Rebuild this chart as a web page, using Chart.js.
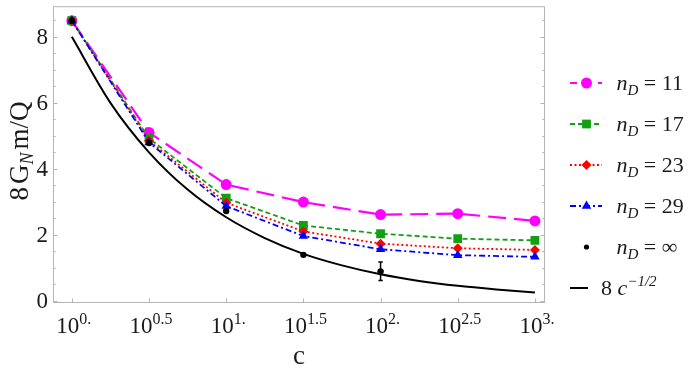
<!DOCTYPE html>
<html>
<head>
<meta charset="utf-8">
<script src="https://cdn.jsdelivr.net/npm/chart.js@4.4.1/dist/chart.umd.min.js"></script>
<style>
  body { margin: 0; background: #fff; }
  #wrap { width: 697px; height: 377px; }
</style>
</head>
<body>
<div id="wrap"><canvas id="chart" width="697" height="377"></canvas></div>
<script>
// c values (log axis) and 8 G_N m/Q
const cValues = [1, 3.162, 10, 31.62, 100, 316.2, 1000];
const nD11 = [8.49, 5.10, 3.52, 2.99, 2.61, 2.64, 2.42];
const nD17 = [8.49, 4.92, 3.11, 2.28, 2.03, 1.88, 1.83];
const nD23 = [8.49, 4.85, 2.97, 2.10, 1.73, 1.59, 1.54];
const nD29 = [8.49, 4.80, 2.87, 1.96, 1.56, 1.38, 1.33];

// n_D = infinity points, with error bar on the last one
const cInf = [1, 3.162, 10, 31.62, 100];
const nDInf = [8.49, 4.78, 2.72, 1.39, 0.89];
const nDInfErr = [0, 0, 0, 0, 0.28];

// 8 c^(-1/2) curve, read every quarter decade
const cCurve = [1, 1.778, 3.162, 5.623, 10, 17.78, 31.62, 56.23, 100, 177.8, 316.2, 562.3, 1000];
const curveVals = [8.0, 6.0, 4.5, 3.37, 2.53, 1.9, 1.42, 1.07, 0.8, 0.6, 0.45, 0.34, 0.25];

// ticks
const xTickVals = [1, 3.162, 10, 31.62, 100, 316.2, 1000];
const xTickExp = ['0.', '0.5', '1.', '1.5', '2.', '2.5', '3.'];
const yTickVals = [0, 2, 4, 6, 8];

const SERIF = '"Liberation Serif", "DejaVu Serif", serif';
const FRAME = '#b4b4b4';

const pts = (xs, ys) => ys.map((v, i) => ({ x: xs[i], y: v }));

const series = [
  { key: '11', data: nD11, color: '#ff00ff', dash: [18, 8], width: 2.2, shape: 'circle', r: 5.5 },
  { key: '17', data: nD17, color: '#12a012', dash: [5, 3], width: 1.8, shape: 'rect', r: 6.2 },
  { key: '23', data: nD23, color: '#ff0000', dash: [2, 2.5], width: 1.8, shape: 'rectRot', r: 5 },
  { key: '29', data: nD29, color: '#0000ff', dash: [6, 3, 2, 3], width: 1.8, shape: 'triangle', r: 5.5 }
];

const datasets = [
  {
    label: 'inf', data: pts(cInf, nDInf), showLine: false,
    pointRadius: 3.2, pointBackgroundColor: '#000', pointBorderWidth: 0, order: 0
  },
  ...series.map((s, i) => ({
    label: s.key, data: pts(cValues, s.data), showLine: true,
    borderColor: s.color, borderWidth: s.width, borderDash: s.dash,
    pointStyle: s.shape, pointRadius: s.r, pointBackgroundColor: s.color,
    pointBorderColor: s.color, pointBorderWidth: 0, order: 4 - i
  })),
  {
    label: 'curve', data: pts(cCurve, curveVals), showLine: true,
    borderColor: '#000', borderWidth: 2, pointRadius: 0,
    cubicInterpolationMode: 'monotone', order: 6
  }
];

function marker(ctx, shape, x, y, r, color) {
  ctx.save();
  ctx.fillStyle = color;
  ctx.setLineDash([]);
  ctx.beginPath();
  if (shape === 'circle') {
    ctx.arc(x, y, r, 0, Math.PI * 2);
  } else if (shape === 'rect') {
    const s = r * Math.SQRT1_2;
    ctx.rect(x - s, y - s, 2 * s, 2 * s);
  } else if (shape === 'rectRot') {
    ctx.moveTo(x - r, y); ctx.lineTo(x, y - r); ctx.lineTo(x + r, y); ctx.lineTo(x, y + r);
  } else if (shape === 'triangle') {
    for (let k = 0; k < 3; k++) {
      const a = k * 2 * Math.PI / 3;
      ctx.lineTo(x + Math.sin(a) * r, y - Math.cos(a) * r);
    }
  }
  ctx.closePath();
  ctx.fill();
  ctx.restore();
}

// draw pieces of text with font changes; returns end x
function runs(ctx, parts, x, y) {
  for (const p of parts) {
    ctx.font = p.font;
    ctx.fillText(p.t, x, y + (p.dy || 0));
    x += ctx.measureText(p.t).width + (p.gap || 0);
  }
  return x;
}
function runsWidth(ctx, parts) {
  let w = 0;
  for (const p of parts) { ctx.font = p.font; w += ctx.measureText(p.t).width + (p.gap || 0); }
  return w;
}

const framePlugin = {
  id: 'frame',
  beforeDatasetsDraw(chart) {
    const { ctx, chartArea: a, scales: { x, y } } = chart;
    ctx.save();
    ctx.strokeStyle = FRAME;
    ctx.lineWidth = 1;
    ctx.strokeRect(a.left + 0.5, a.top + 0.5, a.right - a.left - 1, a.bottom - a.top - 1);
    // y ticks: major on even values, minor every 0.5
    ctx.beginPath();
    for (let v = 0; v <= 8.5; v += 0.5) {
      const py = Math.round(y.getPixelForValue(v)) + 0.5;
      const len = yTickVals.includes(v) ? 4.5 : 2.6;
      ctx.moveTo(a.left, py); ctx.lineTo(a.left + len, py);
      ctx.moveTo(a.right, py); ctx.lineTo(a.right - len, py);
    }
    for (const v of xTickVals) {
      const px = Math.round(x.getPixelForValue(v)) + 0.5;
      ctx.moveTo(px, a.bottom); ctx.lineTo(px, a.bottom - 4.5);
    }
    ctx.stroke();
    ctx.restore();
  },
  afterDatasetsDraw(chart) {
    const { ctx, scales: { x, y } } = chart;
    ctx.save();
    ctx.strokeStyle = '#000';
    ctx.lineWidth = 1.5;
    ctx.beginPath();
    nDInfErr.forEach((e, i) => {
      if (!e) return;
      const px = x.getPixelForValue(cInf[i]);
      const y1 = y.getPixelForValue(nDInf[i] + e);
      const y2 = y.getPixelForValue(nDInf[i] - e);
      ctx.moveTo(px, y1); ctx.lineTo(px, y2);
      ctx.moveTo(px - 2.2, y1); ctx.lineTo(px + 2.2, y1);
      ctx.moveTo(px - 2.2, y2); ctx.lineTo(px + 2.2, y2);
    });
    ctx.stroke();
    ctx.restore();
  },
  afterDraw(chart) {
    const { ctx, chartArea: a, scales: { x, y } } = chart;
    ctx.save();
    ctx.fillStyle = '#1a1a1a';
    // y tick labels
    ctx.font = '23px ' + SERIF;
    ctx.textAlign = 'right';
    ctx.textBaseline = 'middle';
    yTickVals.forEach(v => ctx.fillText(String(v), a.left - 5, y.getPixelForValue(v) + 1));
    // x tick labels 10^e
    ctx.textAlign = 'left';
    ctx.textBaseline = 'alphabetic';
    xTickVals.forEach((v, i) => {
      const parts = [
        { t: '10', font: '23px ' + SERIF },
        { t: xTickExp[i], font: '16px ' + SERIF, dy: -9 }
      ];
      const w = runsWidth(ctx, parts);
      runs(ctx, parts, x.getPixelForValue(v) - w / 2 + 2, a.bottom + 30);
    });
    // axis titles
    ctx.font = '27px ' + SERIF;
    ctx.textAlign = 'center';
    ctx.fillText('c', (a.left + a.right) / 2, 364);
    ctx.save();
    ctx.translate(28, 151);
    ctx.rotate(-Math.PI / 2);
    ctx.textAlign = 'left';
    const yl = [
      { t: '8', font: '27px ' + SERIF, gap: 3 },
      { t: 'G', font: '27px ' + SERIF },
      { t: 'N', font: 'italic 18px ' + SERIF, dy: 5, gap: 3 },
      { t: 'm/Q', font: '27px ' + SERIF }
    ];
    runs(ctx, yl, -runsWidth(ctx, yl) / 2, 0);
    ctx.restore();

    // legend
    const lx0 = 570, lx1 = 602, mx = 586.5, tx = 616.5;
    const rowY = k => 83 + 41 * k;
    series.forEach((s, k) => {
      const ry = rowY(k);
      ctx.save();
      ctx.strokeStyle = s.color;
      ctx.lineWidth = s.width;
      ctx.setLineDash(s.dash.map(d => Math.min(d, 7)));
      ctx.beginPath();
      ctx.moveTo(lx0, ry); ctx.lineTo(lx1, ry);
      ctx.stroke();
      ctx.restore();
      marker(ctx, s.shape, mx, ry, s.r, s.color);
      ctx.textAlign = 'left';
      runs(ctx, [
        { t: 'n', font: 'italic 22px ' + SERIF },
        { t: 'D', font: 'italic 15px ' + SERIF, dy: 5 },
        { t: ' = ' + s.key, font: '22px ' + SERIF }
      ], tx, ry + 7);
    });
    // n_D = infinity
    let ry = rowY(4);
    marker(ctx, 'circle', mx, ry, 2.6, '#000');
    runs(ctx, [
      { t: 'n', font: 'italic 22px ' + SERIF },
      { t: 'D', font: 'italic 15px ' + SERIF, dy: 5 },
      { t: ' = \u221E', font: '22px ' + SERIF }
    ], tx, ry + 7);
    // 8 c^-1/2
    ry = rowY(5);
    ctx.save();
    ctx.strokeStyle = '#000';
    ctx.lineWidth = 2;
    ctx.beginPath();
    ctx.moveTo(lx0, ry); ctx.lineTo(588, ry);
    ctx.stroke();
    ctx.restore();
    runs(ctx, [
      { t: '8 ', font: '22px ' + SERIF },
      { t: 'c', font: 'italic 22px ' + SERIF },
      { t: '\u22121/2', font: 'italic 15px ' + SERIF, dy: -9 }
    ], 601, ry + 7);
    ctx.restore();
  }
};

new Chart(document.getElementById('chart'), {
  type: 'scatter',
  data: { datasets },
  options: {
    responsive: false,
    animation: false,
    layout: { padding: { left: 53, right: 152, top: 2, bottom: 74 } },
    plugins: { legend: { display: false }, tooltip: { enabled: false } },
    scales: {
      x: { type: 'logarithmic', display: false, min: 0.755, max: 1162 },
      y: { type: 'linear', display: false, min: -0.07, max: 8.93 }
    }
  },
  plugins: [framePlugin]
});
</script>
</body>
</html>
